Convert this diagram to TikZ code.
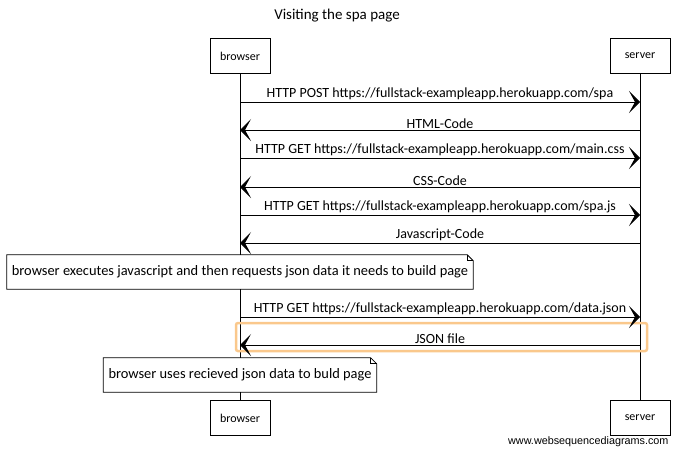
\documentclass[tikz,border=0pt]{standalone}
\usepackage{fontspec}
\setmainfont{Carlito}
\setsansfont{Liberation Sans}
\usetikzlibrary{arrows.meta,positioning,calc}
\definecolor{hlorange}{RGB}{250,200,140}
\tikzset{
    actor/.style={draw, line width=0.8pt, minimum width=60pt, minimum height=35pt, font=\fontsize{12}{14}\selectfont},
    lifeline/.style={line width=0.7pt},
    msg/.style={-{Stealth[length=11pt, width=22pt, inset=6pt]}, line width=0.8pt},
    msglabel/.style={above, inner sep=1.5pt, font=\fontsize{14}{16}\selectfont},
    note/.style={fill=white, minimum height=34pt, inner xsep=5pt, font=\fontsize{14.4}{16}\selectfont},
    noteline/.style={line width=0.8pt},
    highlight/.style={draw=hlorange, line width=2.5pt, rounded corners=2pt}
}

\begin{document}
\begin{tikzpicture}[x=1pt, y=-1pt]
    \useasboundingbox (0,0) rectangle (674,451);
    \node[font=\fontsize{15}{17}\selectfont] (title) at (337,16) {Visiting the spa page};

    \node[actor] (browserTop) at (240,56) {browser};
    \node[actor] (serverTop) at (640,56) {server};
    \node[actor] (browserBot) at (240,418) {browser};
    \node[actor] (serverBot) at (640,418) {server};

    \draw[lifeline] (browserTop) -- (browserBot);
    \draw[lifeline] (serverTop) -- (serverBot);

    % message points on the lifelines
    \coordinate (b1) at (browserTop.south |- 0,102);
    \coordinate (s1) at (serverTop.south |- 0,102);
    \coordinate (b2) at (browserTop.south |- 0,130);
    \coordinate (s2) at (serverTop.south |- 0,130);
    \coordinate (b3) at (browserTop.south |- 0,158);
    \coordinate (s3) at (serverTop.south |- 0,158);
    \coordinate (b4) at (browserTop.south |- 0,187);
    \coordinate (s4) at (serverTop.south |- 0,187);
    \coordinate (b5) at (browserTop.south |- 0,215);
    \coordinate (s5) at (serverTop.south |- 0,215);
    \coordinate (b6) at (browserTop.south |- 0,243);
    \coordinate (s6) at (serverTop.south |- 0,243);
    \coordinate (b7) at (browserTop.south |- 0,317);
    \coordinate (s7) at (serverTop.south |- 0,317);
    \coordinate (b8) at (browserTop.south |- 0,345);
    \coordinate (s8) at (serverTop.south |- 0,345);

    \draw[highlight] ($(b8)+(-4,-22)$) rectangle ($(s8)+(7,6)$);

    \draw[msg] (b1) -- node[msglabel] {HTTP POST https://fullstack-exampleapp.herokuapp.com/spa} (s1);
    \draw[msg] (s2) -- node[msglabel] {HTML-Code} (b2);
    \draw[msg] (b3) -- node[msglabel] {HTTP GET https://fullstack-exampleapp.herokuapp.com/main.css} (s3);
    \draw[msg] (s4) -- node[msglabel] {CSS-Code} (b4);
    \draw[msg] (b5) -- node[msglabel] {HTTP GET https://fullstack-exampleapp.herokuapp.com/spa.js} (s5);
    \draw[msg] (s6) -- node[msglabel] {Javascript-Code} (b6);
    \draw[msg] (b7) -- node[msglabel] {HTTP GET https://fullstack-exampleapp.herokuapp.com/data.json} (s7);
    \draw[msg] (s8) -- node[msglabel] {JSON file} (b8);

    % notes over the browser
    \node[note] (execNote) at (240,272) {browser executes javascript and then requests json data it needs to build page};
    \draw[noteline] (execNote.south west) -- (execNote.north west) -- ($(execNote.north east)+(-6,0)$)
        -- ($(execNote.north east)+(0,6)$) -- (execNote.south east) -- cycle;
    \draw[noteline] ($(execNote.north east)+(-6,0)$) -- ($(execNote.north east)+(-6,6)$) -- ($(execNote.north east)+(0,6)$);

    \node[note] (buildNote) at (240,375) {browser uses recieved json data to buld page};
    \draw[noteline] (buildNote.south west) -- (buildNote.north west) -- ($(buildNote.north east)+(-6,0)$)
        -- ($(buildNote.north east)+(0,6)$) -- (buildNote.south east) -- cycle;
    \draw[noteline] ($(buildNote.north east)+(-6,0)$) -- ($(buildNote.north east)+(-6,6)$) -- ($(buildNote.north east)+(0,6)$);

    \node[font=\sffamily\fontsize{10.8}{12}\selectfont, anchor=east] (credit) at (672,442) {www.websequencediagrams.com};
\end{tikzpicture}
\end{document}
